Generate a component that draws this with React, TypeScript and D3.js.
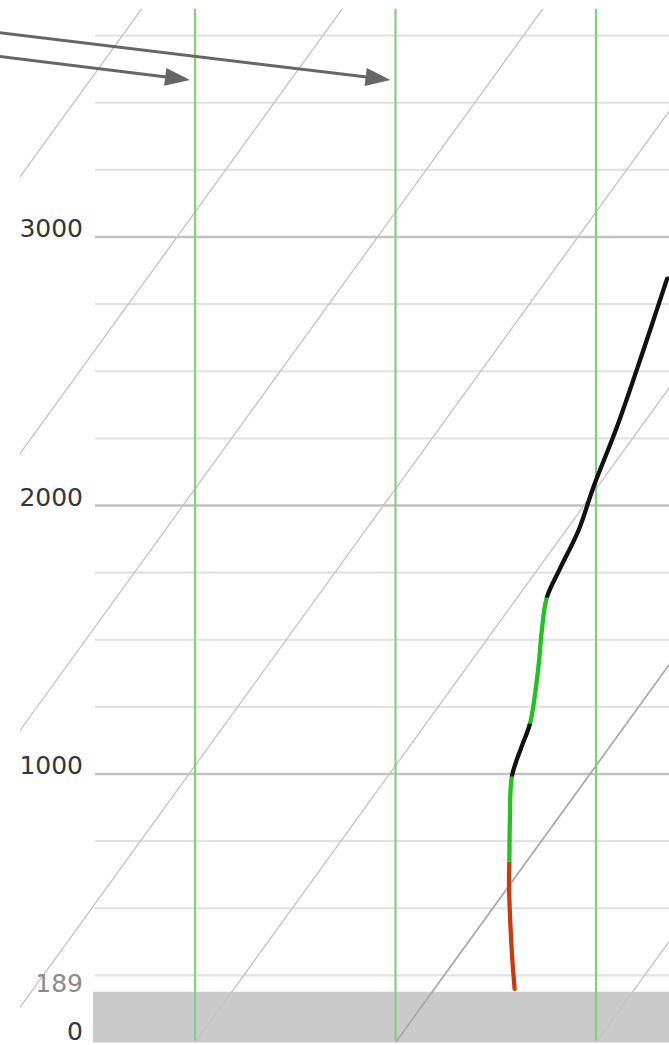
import React from "react";
import * as d3 from "d3";

// ---- data ----
const altitudeTicksMajor = [1000, 2000, 3000];
const altitudeTicksMinor = [250, 500, 750, 1250, 1500, 1750, 2250, 2500, 2750, 3250, 3500, 3750];
const axisLabels = ["0", "1000", "2000", "3000"];
const groundAltitude = 189;
const isothermTemps = [-50, -40, -30, -20, -10, 0, 10, 20];
const dryAdiabatTemps = [0, 10, 20];
const zeroIsotherm = 10;

const profileAltitude = [200, 345, 594, 673, 841, 990, 1102, 1189, 1400, 1524, 1656, 1760, 1909, 2070, 2294, 2579, 2845];
const profileTemperature = [14.0, 12.45, 9.9, 9.15, 7.55, 6.2, 5.6, 5.18, 3.55, 2.5, 1.48, 1.1, 0.62, -0.2, -1.2, -2.65, -4.05];
const segmentStartIndex = [0, 3, 5, 7, 10];
const segmentColors = ["#cc3a0c", "#1cc41c", "#111111", "#1cc41c", "#111111"];

const arrowTargetTemps = [0, 10];
const arrowTargetAltitude = 3585;

const LAPSE = 0.0097; // skew in °C per metre

export default function App() {
  const W = 669;
  const H = 1045;
  const left = 95;
  const clipLeft = 20;
  const yScale = d3.scaleLinear().domain([0, 3850]).range([1042.5, 8.8]);
  const xScale = d3.scaleLinear().domain([0, 10]).range([195, 395.5]);
  const skewX = (t: number, h: number) => xScale(t + LAPSE * h);

  const pts = profileAltitude.map((h, i) => [skewX(profileTemperature[i], h), yScale(h)] as [number, number]);
  const line = d3.line<[number, number]>().curve(d3.curveCatmullRom.alpha(0.5));
  const fullPath = line(pts) || "";
  const bands = segmentStartIndex.map((s, i) => {
    const yBottom = i === 0 ? H : yScale(profileAltitude[s]);
    const yTop = i + 1 < segmentStartIndex.length ? yScale(profileAltitude[segmentStartIndex[i + 1]]) : 0;
    return { yTop, yBottom, color: segmentColors[i] };
  });

  const topAlt = 3850;
  const labelAlts = [0, ...altitudeTicksMajor];

  const arrows = arrowTargetTemps.map((t, i) => {
    const tx = xScale(t) - 5;
    const ty = yScale(arrowTargetAltitude);
    const slope = i === 0 ? 0.123 : 0.121;
    const ang = Math.atan(slope);
    const len = 25;
    const hw = 9;
    const bx = tx - len * Math.cos(ang);
    const by = ty - len * Math.sin(ang);
    const nx = -Math.sin(ang);
    const ny = Math.cos(ang);
    const sx = tx - 600 * Math.cos(ang);
    const sy = ty - 600 * Math.sin(ang);
    return {
      shaft: `M${sx},${sy}L${bx + 1},${by + slope}`,
      head: `M${tx},${ty}L${bx + nx * hw},${by + ny * hw}L${bx - nx * hw},${by - ny * hw}Z`,
    };
  });

  return (
    <svg
      width={W}
      height={H}
      style={{ position: "absolute", left: 0, top: 0, background: "#fff" }}
      fontFamily="DejaVu Sans, Verdana, sans-serif"
    >
      <defs>
        <clipPath id="plot">
          <rect x={clipLeft} y={yScale(topAlt)} width={W - clipLeft} height={yScale(0) - yScale(topAlt)} />
        </clipPath>
        <clipPath id="labels">
          <rect x={clipLeft} y={0} width={W - clipLeft} height={H} />
        </clipPath>
        {bands.map((b, i) => (
          <clipPath id={"band" + i} key={"band" + i}>
            <rect x={0} y={b.yTop} width={W} height={b.yBottom - b.yTop} />
          </clipPath>
        ))}
      </defs>

      {/* ground */}
      <rect x={left - 2} y={yScale(groundAltitude)} width={W - left + 2} height={yScale(0) - yScale(groundAltitude)} fill="#cacaca" />

      {/* minor grid */}
      {altitudeTicksMinor.map((a) => (
        <line key={"mi" + a} x1={left} x2={W} y1={yScale(a)} y2={yScale(a)} stroke="#e2e2e2" strokeWidth={2.2} />
      ))}
      {/* major grid */}
      {altitudeTicksMajor.map((a) => (
        <line key={"ma" + a} x1={left} x2={W} y1={yScale(a)} y2={yScale(a)} stroke="#c2c2c2" strokeWidth={2.6} />
      ))}

      {/* isotherms */}
      <g clipPath="url(#plot)">
        {isothermTemps.map((t) => (
          <line
            key={"iso" + t}
            x1={skewX(t, 0)}
            y1={yScale(0)}
            x2={skewX(t, topAlt + 100)}
            y2={yScale(topAlt + 100)}
            stroke={t === zeroIsotherm ? "#a8a8a8" : "#c4c4c4"}
            strokeWidth={t === zeroIsotherm ? 1.7 : 1.3}
          />
        ))}
      </g>

      {/* dry adiabats */}
      {dryAdiabatTemps.map((t) => (
        <line
          key={"da" + t}
          x1={xScale(t)}
          x2={xScale(t)}
          y1={yScale(topAlt)}
          y2={yScale(0) - 2}
          stroke="#86cc86"
          strokeWidth={2.2}
        />
      ))}

      {/* profile */}
      <g clipPath="url(#plot)">
        {bands.map((b, i) => (
          <g key={"seg" + i} clipPath={`url(#band${i})`}>
            <path d={fullPath} fill="none" stroke={b.color} strokeWidth={4.3} strokeLinecap="round" strokeLinejoin="round" />
          </g>
        ))}
      </g>

      {/* labels */}
      <g clipPath="url(#labels)" fontSize={25} textAnchor="end">
        {labelAlts.map((a, i) => (
          <text key={"lb" + a} x={83} y={yScale(a) - (a === 0 ? 2.5 : 0)} fill="#363636">
            {axisLabels[i]}
          </text>
        ))}
        <text x={83} y={yScale(groundAltitude)} fill="#8a8a8a">
          {String(groundAltitude)}
        </text>
      </g>

      {/* arrows */}
      {arrows.map((a, i) => (
        <g key={"ar" + i}>
          <path d={a.shaft} stroke="#666" strokeWidth={3} fill="none" />
          <path d={a.head} fill="#666" />
        </g>
      ))}
    </svg>
  );
}
